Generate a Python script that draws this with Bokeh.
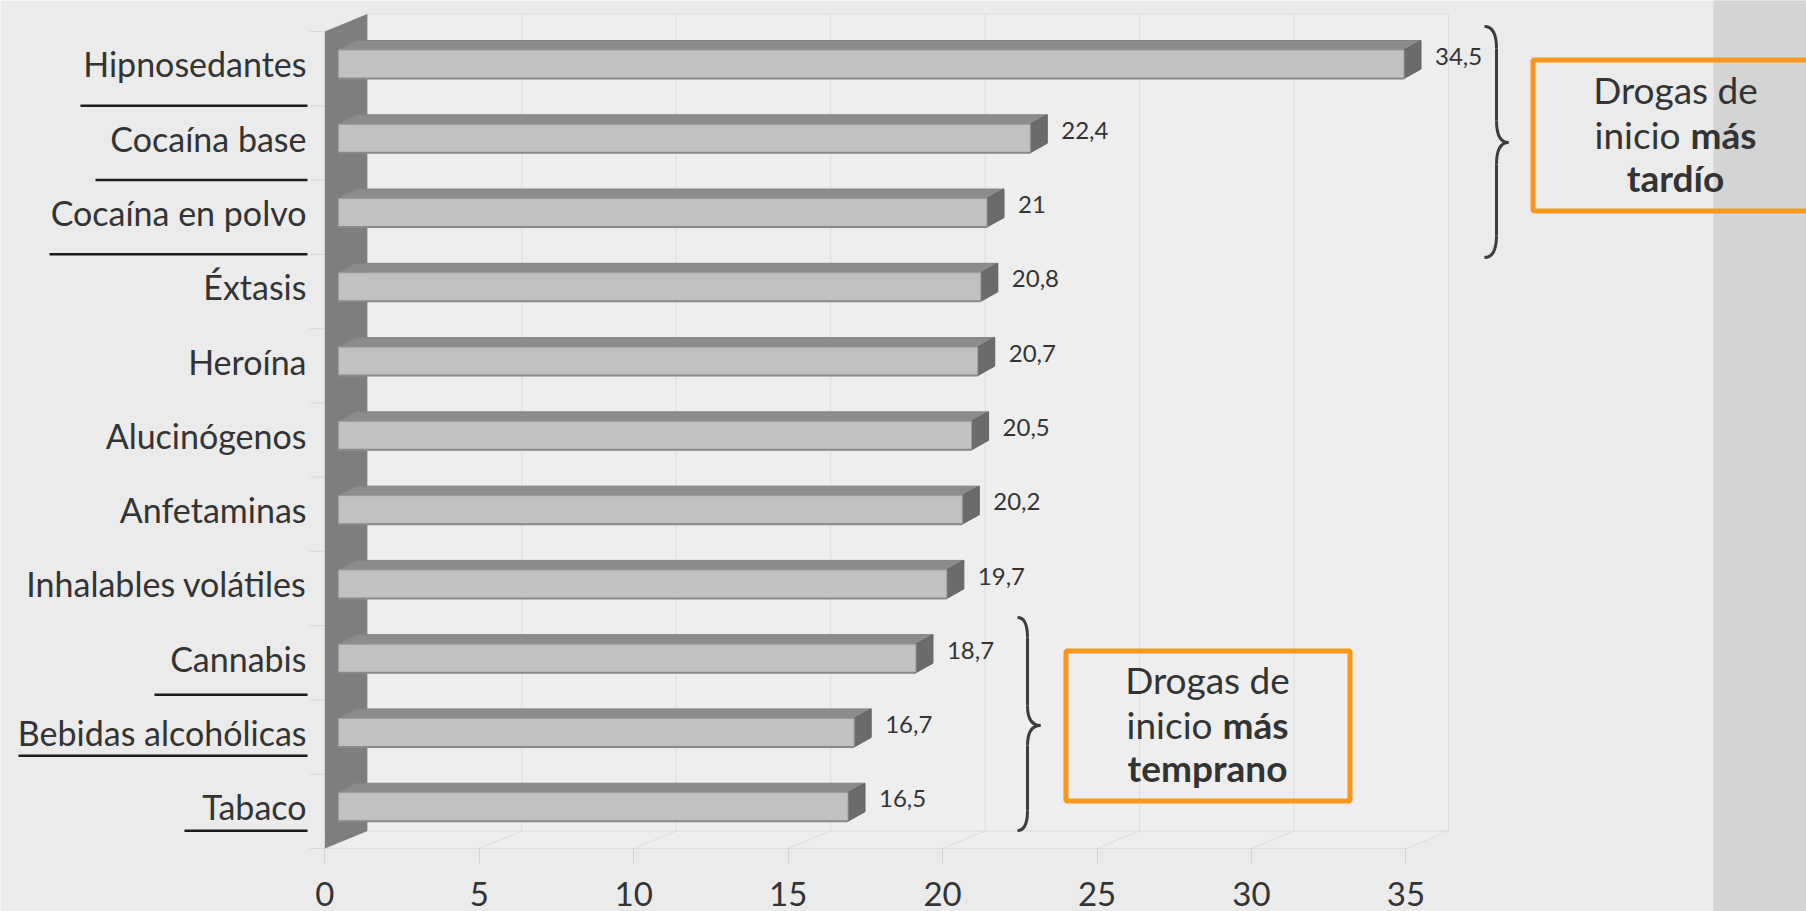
import numpy as np
from bokeh.plotting import figure
from bokeh.models import Range1d, FixedTicker, ColumnDataSource
from bokeh.core.properties import value
from bokeh.embed import file_html
from bokeh.resources import INLINE

# ---------------- data ----------------
categories = ["Tabaco", "Bebidas alcohólicas", "Cannabis", "Inhalables volátiles",
              "Anfetaminas", "Alucinógenos", "Heroína", "Éxtasis",
              "Cocaína en polvo", "Cocaína base", "Hipnosedantes"]
ages = [16.5, 16.7, 18.7, 19.7, 20.2, 20.5, 20.7, 20.8, 21.0, 22.4, 34.5]
age_labels = ["16,5", "16,7", "18,7", "19,7", "20,2", "20,5", "20,7", "20,8", "21", "22,4", "34,5"]
x_ticks = [0, 5, 10, 15, 20, 25, 30, 35]
underlined = ["Hipnosedantes", "Cocaína base", "Cocaína en polvo",
              "Cannabis", "Bebidas alcohólicas", "Tabaco"]
late_box_text = ["Drogas de", "inicio", "más", "tardío"]
early_box_text = ["Drogas de", "inicio", "más", "temprano"]

# ---------------- styling / layout ----------------
FONT = "Lato"
BG = "#ebebeb"
WALL_BACK = "#eeeeee"
GRID = "#dcdcdc"
TEXT = "#333333"
ORANGE = "#f7981a"
W, H = 1806, 911
KX = 30.89          # px per unit (x)
KY = 74.27          # px per category slot (y)
X0 = 324.3          # canvas px of x = 0
FLOOR = 848.0       # canvas px of floor front line
XMAX = x_ticks[-1]
NCAT = len(categories)
BASE_FIX = 0.42     # em shift of the alphabetic baseline in the svg output

def px_x(fx):
    return (fx - X0) / KX

def px_y(fy):
    return (FLOOR - fy) / KY

DX, DY = 42.5 / KX, 17.5 / KY          # full depth
BX, BY = 13.5 / KX, 4.4 / KY           # bar front offset
BDX, BDY = 17.0 / KX, 9.5 / KY         # bar depth
BH = 28.5 / KY                          # bar thickness

p = figure(width=W, height=H,
           x_range=Range1d(-X0 / KX, (W - X0) / KX),
           y_range=Range1d(-(H - FLOOR) / KY, FLOOR / KY),
           output_backend="svg", toolbar_location=None,
           y_axis_location=None, min_border=0,
           background_fill_color=BG, border_fill_color=BG,
           outline_line_color=None)
p.xgrid.visible = False
p.ygrid.visible = False

# right gray strip
p.quad(left=px_x(1713), right=px_x(1900), bottom=-5, top=20,
       fill_color="#d4d4d4", line_color=None)

# back wall
p.quad(left=DX, right=XMAX + DX, bottom=DY, top=NCAT + DY,
       fill_color=WALL_BACK, line_color="#e2e2e2", line_width=1)
gx = [t + DX for t in x_ticks[1:]]
p.segment(x0=gx, y0=[DY] * len(gx), x1=gx, y1=[NCAT + DY] * len(gx),
          line_color=GRID, line_width=1)

# floor
p.patch(x=[0, XMAX, XMAX + DX, DX], y=[0, 0, DY, DY],
        fill_color="#ededed", line_color=None)
p.segment(x0=[0, DX], y0=[0, DY], x1=[XMAX, XMAX + DX], y1=[0, DY],
          line_color=GRID, line_width=1)
p.segment(x0=x_ticks, y0=[0] * len(x_ticks),
          x1=[t + DX for t in x_ticks], y1=[DY] * len(x_ticks),
          line_color=GRID, line_width=1)

# y tick marks left of wall
ky = list(range(NCAT + 1))
p.segment(x0=[-15 / KX] * len(ky), y0=ky, x1=[0] * len(ky), y1=ky,
          line_color="#d8d8d8", line_width=1)

# left wall
p.patch(x=[0, 0, DX, DX], y=[0, NCAT, NCAT + DY, DY],
        fill_color="#7e7e7e", line_color=None)

# bars
a = np.array(ages)
idx = np.arange(NCAT)
yc = idx + 0.5 + BY
yt = yc + BH / 2
yb = yc - BH / 2
src = ColumnDataSource(dict(
    left=[BX] * NCAT, right=list(a + BX), top=list(yt), bottom=list(yb),
    top_xs=[[BX, v + BX, v + BX + BDX, BX + BDX] for v in a],
    top_ys=[[t, t, t + BDY, t + BDY] for t in yt],
    side_xs=[[v + BX, v + BX + BDX, v + BX + BDX, v + BX] for v in a],
    side_ys=[[t, t + BDY, b + BDY, b] for t, b in zip(yt, yb)],
))
p.patches(xs="top_xs", ys="top_ys", source=src, fill_color="#8c8c8c",
          line_color="#838383", line_width=1)
p.patches(xs="side_xs", ys="side_ys", source=src, fill_color="#6b6b6b",
          line_color="#626262", line_width=1)
p.quad(left="left", right="right", top="top", bottom="bottom", source=src,
       fill_color="#c1c1c1", line_color="#9c9c9c", line_width=1)
p.segment(x0=[BX] * NCAT, y0=list(yb), x1=list(a + BX), y1=list(yb),
          line_color="#8a8a8a", line_width=2)

# value labels (baseline ~2px below bar centre)
VAL_FS = 24
p.text(x=list(a + BX + 31 / KX), y=list(yc - (2 - BASE_FIX * VAL_FS) / KY),
       text=age_labels, text_font=value(FONT), text_font_size=f"{VAL_FS}px",
       text_color=TEXT, text_align="left", text_baseline="alphabetic")

# category labels (baseline ~14px below bar centre)
CAT_FS = 34
p.text(x=[px_x(306)] * NCAT, y=list(yc - (14 - BASE_FIX * CAT_FS) / KY),
       text=categories, text_font=value(FONT), text_font_size=f"{CAT_FS}px",
       text_color=TEXT, text_align="right", text_baseline="alphabetic")

# underlines
ul_left_px = {"Hipnosedantes": 80, "Cocaína base": 95, "Cocaína en polvo": 49,
              "Cannabis": 154, "Bebidas alcohólicas": 18, "Tabaco": 184}
ul_off = {"Hipnosedantes": 0.0, "Cocaína base": 0.0, "Cocaína en polvo": 0.0,
          "Cannabis": 0.07, "Bebidas alcohólicas": 0.25, "Tabaco": 0.24}
uy = [categories.index(c) + ul_off[c] for c in underlined]
p.segment(x0=[px_x(ul_left_px[c]) for c in underlined], y0=uy,
          x1=[px_x(307)] * len(uy), y1=uy, line_color="#1c1c1c", line_width=2.5)

# braces
def brace(x0, xs, xt, ytop, ymid, ybot, r):
    q = dict(x0=[], y0=[], x1=[], y1=[], cx=[], cy=[])
    def add(a0, b0, a1, b1, c0, c1):
        q["x0"].append(px_x(a0)); q["y0"].append(px_y(b0))
        q["x1"].append(px_x(a1)); q["y1"].append(px_y(b1))
        q["cx"].append(px_x(c0)); q["cy"].append(px_y(c1))
    add(x0, ytop, xs, ytop + r, xs, ytop)
    add(xs, ymid - r, xt, ymid, xs, ymid)
    add(xt, ymid, xs, ymid + r, xs, ymid)
    add(xs, ybot - r, x0, ybot, xs, ybot)
    p.quadratic(source=ColumnDataSource(q), x0="x0", y0="y0", x1="x1", y1="y1",
                cx="cx", cy="cy", line_color="#3c3c3c", line_width=3)
    p.segment(x0=[px_x(xs)] * 2, y0=[px_y(ytop + r), px_y(ymid + r)],
              x1=[px_x(xs)] * 2, y1=[px_y(ymid - r), px_y(ybot - r)],
              line_color="#3c3c3c", line_width=3)

brace(1484, 1496, 1508, 26, 142, 257, 22)
brace(1017, 1027, 1040, 617, 725, 830, 20)

# orange boxes
p.quad(left=[px_x(1532.5), px_x(1065.5)], right=[px_x(1900), px_x(1349.5)],
       top=[px_y(59.5), px_y(650.5)], bottom=[px_y(210.5), px_y(800.5)],
       fill_color=None, line_color=ORANGE, line_width=5)

BOX_FS = 37
def box_text(lines, cx, split_r, split_l, b1, b2, b3):
    kw = dict(text_font=value(FONT), text_font_size=f"{BOX_FS}px", text_color=TEXT,
              text_baseline="alphabetic")
    fix = BASE_FIX * BOX_FS
    p.text(x=[px_x(cx)], y=[px_y(b1 - fix)], text=[lines[0]], text_align="center", **kw)
    p.text(x=[px_x(split_r)], y=[px_y(b2 - fix)], text=[lines[1]], text_align="right", **kw)
    p.text(x=[px_x(split_l)], y=[px_y(b2 - fix)], text=[lines[2]], text_align="left",
           text_font_style="bold", **kw)
    p.text(x=[px_x(cx)], y=[px_y(b3 - fix)], text=[lines[3]], text_align="center",
           text_font_style="bold", **kw)

box_text(late_box_text, 1675, 1680, 1690, 105, 150, 193)
box_text(early_box_text, 1207, 1212, 1222, 695, 740, 783)

# x axis (library axis, at floor front)
ax = p.xaxis[0]
ax.fixed_location = 0
ax.ticker = FixedTicker(ticks=x_ticks)
ax.axis_line_color = None
ax.major_tick_in = 0
ax.major_tick_out = 15
ax.major_tick_line_color = "#d4d4d4"
ax.minor_tick_line_color = None
ax.major_label_standoff = 18
ax.major_label_text_font = FONT
ax.major_label_text_font_size = "33px"
ax.major_label_text_color = TEXT

open("out.html", "w").write(file_html(p, INLINE))
